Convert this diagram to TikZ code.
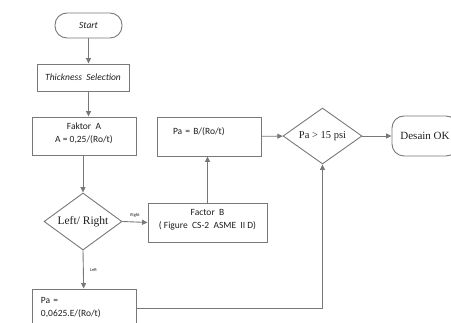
\documentclass[tikz,border=0pt]{standalone}
\usepackage{fontspec}
\setmainfont{Liberation Serif}
\newfontfamily\calib{Carlito}
\definecolor{linegray}{RGB}{120,120,120}
\definecolor{textgray}{RGB}{30,30,30}
\usetikzlibrary{arrows.meta}
\usetikzlibrary{shapes.geometric}
\tikzset{
  box/.style={draw=linegray, line width=0.9pt, text=textgray, inner sep=2pt, font=\calib\fontsize{9.5}{13}\selectfont},
  term/.style={box, rounded corners=12pt},
  choice/.style={draw=linegray, line width=0.9pt, diamond, aspect=1.4, inner sep=0pt, text=textgray},
  flow/.style={draw=linegray, line width=0.9pt, -{Triangle[width=5pt,length=5.5pt]}},
  tag/.style={text=textgray, font=\calib\fontsize{4.5}{5}\selectfont}
}

\begin{document}
\begin{tikzpicture}[x=1pt, y=-1pt]
  \useasboundingbox (0,0) rectangle (451,323);
  \clip (0,0) rectangle (451,323);

  \node [term, minimum width=67pt, minimum height=25pt] (start) at (88.5,25.5) {\itshape Start};
  \node [box, minimum width=92pt, minimum height=27pt] (thick) at (83,77.5) {\itshape Thickness\ \ Selection};
  \node [box, minimum width=104pt, minimum height=38pt, align=center, text depth=7pt] (fakta) at (84,136) {Faktor\ \ A\\ A = 0,25/(Ro/t)};
  \node [choice, minimum width=78pt, minimum height=57pt, font=\fontsize{11.5}{12}\selectfont] (lr) at (83,221.5) {Left/ Right};
  \node [box, minimum width=104pt, minimum height=38pt, align=left, text width=86pt] (paa) at (84,308) {Pa =\\ 0,0625.E/(Ro/t)};
  \node [box, minimum width=119pt, minimum height=39pt, align=center, text depth=8pt] (faktb) at (207.5,222.5) {Factor\ \ B\\ ( Figure\ \ CS-2\ \ ASME\ \ II D)};
  \node [box, minimum width=104pt, minimum height=39pt, align=left, text width=100pt, text depth=10pt] (pab) at (209,136.5) {\hspace*{14pt}Pa = B/(Ro/t)};
  \node [choice, minimum width=79pt, minimum height=56pt, font=\fontsize{10.5}{12}\selectfont] (cek) at (322.5,136) {Pa > 15 psi};
  \node [term, minimum width=66pt, minimum height=40pt, font=\fontsize{11}{12}\selectfont] (ok) at (425,136) {Desain OK};

  % main line
  \draw [flow] (start) -- (start |- thick.north);
  \draw [flow] (start |- thick.south) -- (start |- fakta.north);
  \draw [flow] (lr |- fakta.south) -- (lr);

  % right / left
  \draw [flow] (lr.east) -- node [tag, above=1pt] {Right} (faktb.west);
  \draw [flow] (lr.south) -- node [tag, right=3pt] {Left} (paa);
  \draw [flow] (faktb.north) -- (faktb.north |- pab.south);

  % check
  \draw [flow] (pab) -- (cek);
  \draw [flow] (cek) -- (ok);
  \draw [flow] (paa) -| (cek.south);

\end{tikzpicture}
\end{document}
